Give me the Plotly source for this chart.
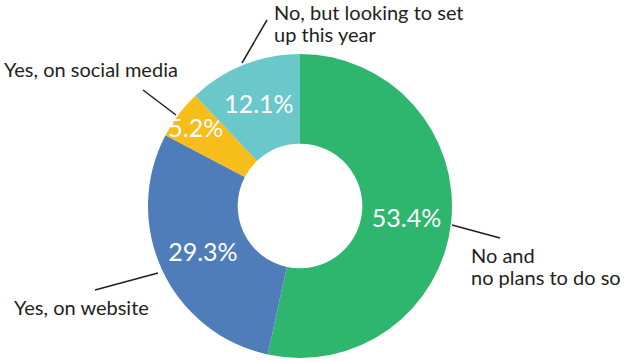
import plotly.graph_objects as go

labels = ["No and no plans to do so", "Yes, on website", "Yes, on social media", "No, but looking to set up this year"]
values = [53.4, 29.3, 5.2, 12.1]
colors = ["#2eb66f", "#4f7dba", "#f6bd1b", "#6ac8cb"]

# outside label lines of text (one entry per printed line)
label_lines = [
    ["No and", "no plans to do so"],
    ["Yes, on website"],
    ["Yes, on social media"],
    ["No, but looking to set", "up this year"],
]

W, H = 630, 362

def px(x):
    return x / W

def py(y):
    return 1 - y / H

fig = go.Figure(go.Pie(
    values=values,
    labels=labels,
    marker=dict(colors=colors, line=dict(width=0)),
    hole=0.41,
    sort=False,
    direction="clockwise",
    rotation=0,
    texttemplate="%{value:.1f}%",
    textinfo="text",
    textposition="inside",
    insidetextorientation="horizontal",
    textfont=dict(family="Lato", size=25, color="white"),
    domain=dict(x=[px(148), px(452)], y=[py(358), py(54)]),
    showlegend=False,
    hoverinfo="label+percent",
))

# layout: (left x, middle y, base font size controlling line spacing) in pixels
label_pos = [
    (470, 266, 17.2),
    (13, 307, 20),
    (3, 69, 20),
    (273, 23, 17.2),
]
leader = [
    ((452, 225), (500, 238)),
    ((158, 273), (95, 290)),
    ((176, 115), (143, 90)),
    ((242, 63), (267, 20)),
]

for lines, (x, y, fs) in zip(label_lines, label_pos):
    txt = "<br>".join('<span style="font-size:20px">%s</span>' % t for t in lines)
    fig.add_annotation(x=px(x), y=py(y), xref="paper", yref="paper", text=txt,
                       showarrow=False, xanchor="left", yanchor="middle", align="left",
                       borderpad=0,
                       font=dict(family="Lato", size=fs, color="#231f20"))
for (a, b) in leader:
    fig.add_shape(type="line", xref="paper", yref="paper",
                  x0=px(a[0]), y0=py(a[1]), x1=px(b[0]), y1=py(b[1]),
                  line=dict(color="#231f20", width=1.5))

fig.update_layout(width=W, height=H, margin=dict(l=0, r=0, t=0, b=0),
                  paper_bgcolor="white", plot_bgcolor="white",
                  uniformtext=dict(minsize=25, mode="show"))
fig.write_html("out.html")
